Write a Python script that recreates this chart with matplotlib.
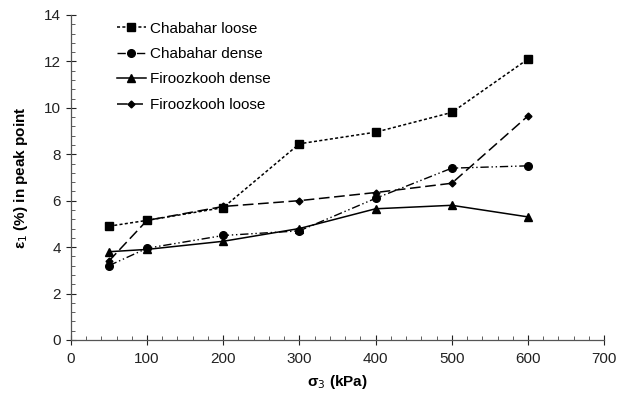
import matplotlib.pyplot as plt
from matplotlib.ticker import MultipleLocator

plt.rcParams['font.family'] = ['Liberation Sans', 'DejaVu Sans']

# confining pressure (kPa)
sigma3 = [50, 100, 200, 300, 400, 500, 600]

# axial strain at peak (%)
chabahar_loose = [4.9, 5.15, 5.7, 8.45, 8.95, 9.8, 12.1]
chabahar_dense = [3.2, 3.95, 4.5, 4.7, 6.1, 7.4, 7.5]
firoozkooh_dense = [3.8, 3.9, 4.25, 4.8, 5.65, 5.8, 5.3]
firoozkooh_loose = [3.4, 5.15, 5.75, 6.0, 6.35, 6.75, 9.65]

fig = plt.figure(figsize=(6.38, 3.93), dpi=100)
ax = fig.add_axes([0.111, 0.135, 0.836, 0.827])

ax.plot(sigma3, chabahar_loose, color='black', lw=1.1, ls=(0, (2, 1.5)),
        marker='s', ms=5.5, label='Chabahar loose')
ax.plot(sigma3, chabahar_dense, color='black', lw=1.0, ls=(0, (6, 2, 1, 2, 1, 2)),
        marker='o', ms=5.5, label='Chabahar dense')
ax.plot(sigma3, firoozkooh_dense, color='black', lw=1.1, ls='-',
        marker='^', ms=5.5, label='Firoozkooh dense')
ax.plot(sigma3, firoozkooh_loose, color='black', lw=1.1, ls=(0, (7, 3)),
        marker='D', ms=3.5, label='Firoozkooh loose')

ax.set_xlim(0, 700)
ax.set_ylim(0, 14)
ax.xaxis.set_major_locator(MultipleLocator(100))
ax.xaxis.set_minor_locator(MultipleLocator(20))
ax.yaxis.set_major_locator(MultipleLocator(2))
ax.yaxis.set_minor_locator(MultipleLocator(0.4))
ax.tick_params(which='major', direction='inout', length=7, width=0.8, labelsize=11, colors='#222222')
ax.tick_params(which='minor', direction='in', length=3, width=0.6, colors='#444444')
ax.tick_params(axis='x', pad=5)

for side in ('top', 'right'):
    ax.spines[side].set_visible(False)
for side in ('left', 'bottom'):
    ax.spines[side].set_color('#555555')
    ax.spines[side].set_linewidth(0.9)

ax.set_xlabel(r'σ$_3$ (kPa)', fontsize=11, fontweight='bold', labelpad=5)
ax.set_ylabel(r'ε$_1$ (%) in peak point', fontsize=11, fontweight='bold', labelpad=10)

ax.legend(loc='upper left', bbox_to_anchor=(0.06, 1.022), frameon=False,
          fontsize=11, handlelength=1.9, handletextpad=0.3, labelspacing=0.75)

fig.savefig('out.png', dpi=100)
